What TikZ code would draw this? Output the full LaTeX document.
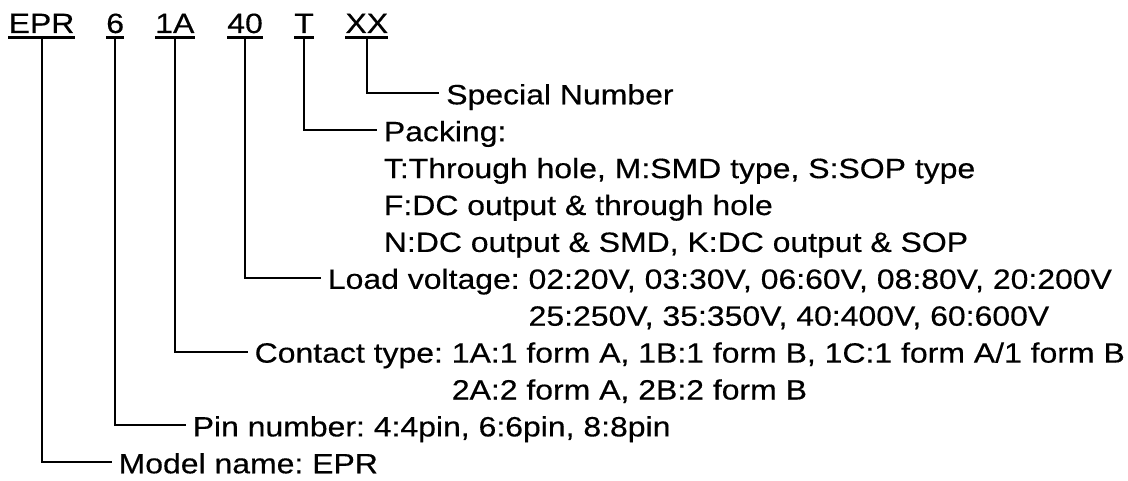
\documentclass[tikz,border=0pt]{standalone}
\usepackage{fontspec}
\setmainfont{Liberation Sans}[FakeStretch=1.145, FakeBold=0.4]
\usepackage{tikz}
\frenchspacing
\colorlet{lineColor}{black}
\colorlet{textColor}{black}

\begin{document}
\begin{tikzpicture}[
    font=\fontsize{19.85}{26.25}\selectfont,
    codePart/.style={anchor=base west, inner sep=0pt, text depth=0.1cm, text=textColor},
    descText/.style={anchor=base west, inner xsep=0.17cm, inner ysep=0pt, text=textColor},
    underLine/.style={draw=lineColor, line width=2.2pt},
    leader/.style={draw=lineColor, line width=1.4pt}
]
    \useasboundingbox (0, 0) rectangle (28.2, 12);

    % --- Bestellschluessel (oben, unterstrichen) ---
    \node[codePart] (epr) at (0.21, 11.175){EPR};
    \node[codePart] (pinNo) at (2.65, 11.175){6};
    \node[codePart] (contactTy) at (3.875, 11.175){1A};
    \node[codePart] (loadV) at (5.675, 11.175){40};
    \node[codePart] (packT) at (7.35, 11.175){T};
    \node[codePart] (specialXX) at (8.63, 11.175){XX};

    \draw[underLine] (epr.south west) -- (epr.south east);
    \draw[underLine] (pinNo.south west) -- (pinNo.south east);
    \draw[underLine] (contactTy.south west) -- (contactTy.south east);
    \draw[underLine] (loadV.south west) -- (loadV.south east);
    \draw[underLine] (packT.south west) -- (packT.south east);
    \draw[underLine] (specialXX.south west) -- (specialXX.south east);

    % --- Beschreibungen ---
    \node[descText] (specialNumber) at (10.98, 9.3925){Special Number};
    \node[descText] (packing) at (9.42, 8.47){\begin{tabular}[t]{@{}l@{}}
        Packing:\\
        T:Through hole, M:SMD type, S:SOP type\\
        F:DC output \& through hole\\
        N:DC output \& SMD, K:DC output \& SOP
    \end{tabular}};
    \node[descText] (loadVoltage) at (8.02, 4.78){\begin{tabular}[t]{@{}l@{\ }l@{}}
        Load voltage: & 02:20V, 03:30V, 06:60V, 08:80V, 20:200V\\
                      & 25:250V, 35:350V, 40:400V, 60:600V
    \end{tabular}};
    \node[descText] (contactType) at (6.19, 2.935){\begin{tabular}[t]{@{}l@{\ }l@{}}
        Contact type: & 1A:1 form A, 1B:1 form B, 1C:1 form A/1 form B\\
                      & 2A:2 form A, 2B:2 form B
    \end{tabular}};
    \node[descText] (pinNumber) at (4.64, 1.09){Pin number: 4:4pin, 6:6pin, 8:8pin};
    \node[descText] (modelName) at (2.79, 0.1675){Model name: EPR};

    % --- Fuehrungslinien ---
    \draw[leader] (specialXX.south) |- ([yshift=0.275cm]specialNumber.base west);
    \draw[leader] (packT.south) |- ([yshift=0.275cm]packing.base west);
    \draw[leader] (loadV.south) |- ([yshift=0.275cm]loadVoltage.base west);
    \draw[leader] (contactTy.south) |- ([yshift=0.275cm]contactType.base west);
    \draw[leader] (pinNo.south) |- ([yshift=0.275cm]pinNumber.base west);
    \draw[leader] (epr.south) |- ([yshift=0.275cm]modelName.base west);

\end{tikzpicture}
\end{document}
